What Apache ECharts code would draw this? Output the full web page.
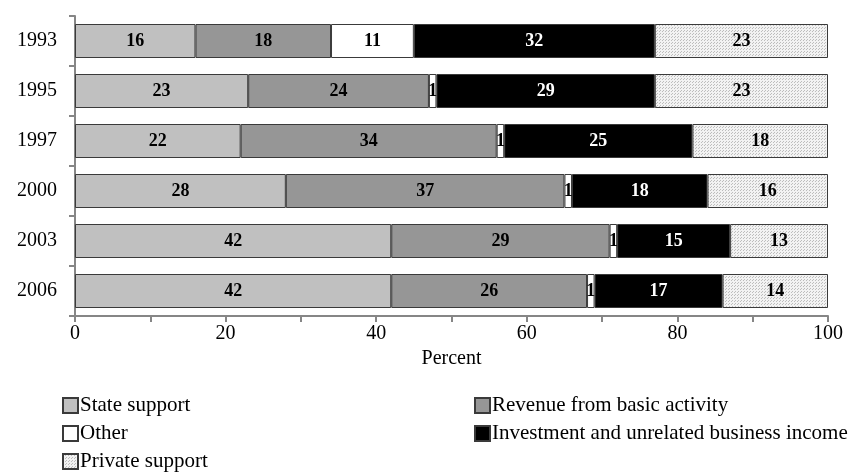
<!DOCTYPE html>
<html>
<head>
<meta charset="utf-8">
<script src="https://cdn.jsdelivr.net/npm/echarts@6/dist/echarts.min.js"></script>
<style>
  html, body { margin: 0; padding: 0; background: #fff; }
  #main { width: 857px; height: 473px; }
</style>
</head>
<body>
<div id="main"></div>
<script>
var years = ['1993', '1995', '1997', '2000', '2003', '2006'];
var stateSupport = [16, 23, 22, 28, 42, 42];
var basicActivity = [18, 24, 34, 37, 29, 26];
var other = [11, 1, 1, 1, 1, 1];
var investment = [32, 29, 25, 18, 15, 17];
var privateSupport = [23, 23, 18, 16, 13, 14];

var serif = '"Liberation Serif", "DejaVu Serif", serif';

// dotted fill for private support
function dotPattern() {
  var c = document.createElement('canvas');
  c.width = 3; c.height = 3;
  var ctx = c.getContext('2d');
  ctx.fillStyle = '#f2f2f2';
  ctx.fillRect(0, 0, 3, 3);
  ctx.fillStyle = '#bdbdbd';
  ctx.fillRect(0, 0, 1, 1);
  ctx.fillRect(2, 1, 1, 1);
  return c;
}

function mkSeries(name, data, fill, txt) {
  return {
    name: name,
    type: 'bar',
    stack: 'all',
    barWidth: '68%',
    data: data,
    itemStyle: { color: fill, borderColor: '#3a3a3a', borderWidth: 1 },
    label: {
      show: true,
      position: 'inside',
      color: txt,
      fontFamily: serif,
      fontWeight: 'bold',
      fontSize: 18
    },
    emphasis: { disabled: true }
  };
}

var chart = echarts.init(document.getElementById('main'), null, { renderer: 'canvas' });

var legendText = { fontFamily: serif, fontSize: 21, color: '#000', padding: [0, 0, 0, -3] };

chart.setOption({
  animation: false,
  grid: { left: 75, right: 29, top: 16, bottom: 157 },
  legend: [{
    left: 62, top: 395, padding: 0,
    orient: 'vertical',
    itemWidth: 15, itemHeight: 15, itemGap: 7,
    icon: 'rect',
    textStyle: legendText,
    selectedMode: false,
    data: ['State support', 'Other', 'Private support']
  }, {
    left: 474, top: 395, padding: 0,
    orient: 'vertical',
    itemWidth: 15, itemHeight: 15, itemGap: 7,
    icon: 'rect',
    textStyle: legendText,
    selectedMode: false,
    data: ['Revenue from basic activity', 'Investment and unrelated business income']
  }],
  xAxis: {
    type: 'value',
    min: 0, max: 100, interval: 10,
    name: 'Percent',
    nameLocation: 'middle',
    nameGap: 30,
    nameTextStyle: { fontFamily: serif, fontSize: 20, color: '#000' },
    axisLine: { show: true, lineStyle: { color: '#868686', width: 2 } },
    axisTick: { show: true, length: 6, lineStyle: { color: '#868686', width: 2 } },
    axisLabel: {
      fontFamily: serif, fontSize: 20, color: '#000', margin: 8,
      formatter: function (v) { return v % 20 === 0 ? String(v) : ''; }
    },
    splitLine: { show: false }
  },
  yAxis: {
    type: 'category',
    data: years,
    inverse: true,
    axisLine: { show: true, lineStyle: { color: '#868686', width: 2 } },
    axisTick: { show: true, length: 6, lineStyle: { color: '#868686', width: 2 } },
    axisLabel: { fontFamily: serif, fontSize: 20, color: '#000', margin: 18 }
  },
  series: [
    mkSeries('State support', stateSupport, '#c0c0c0', '#000'),
    mkSeries('Revenue from basic activity', basicActivity, '#969696', '#000'),
    mkSeries('Other', other, '#ffffff', '#000'),
    mkSeries('Investment and unrelated business income', investment, '#000000', '#fff'),
    mkSeries('Private support', privateSupport, { image: dotPattern(), repeat: 'repeat' }, '#000')
  ]
});
</script>
</body>
</html>
